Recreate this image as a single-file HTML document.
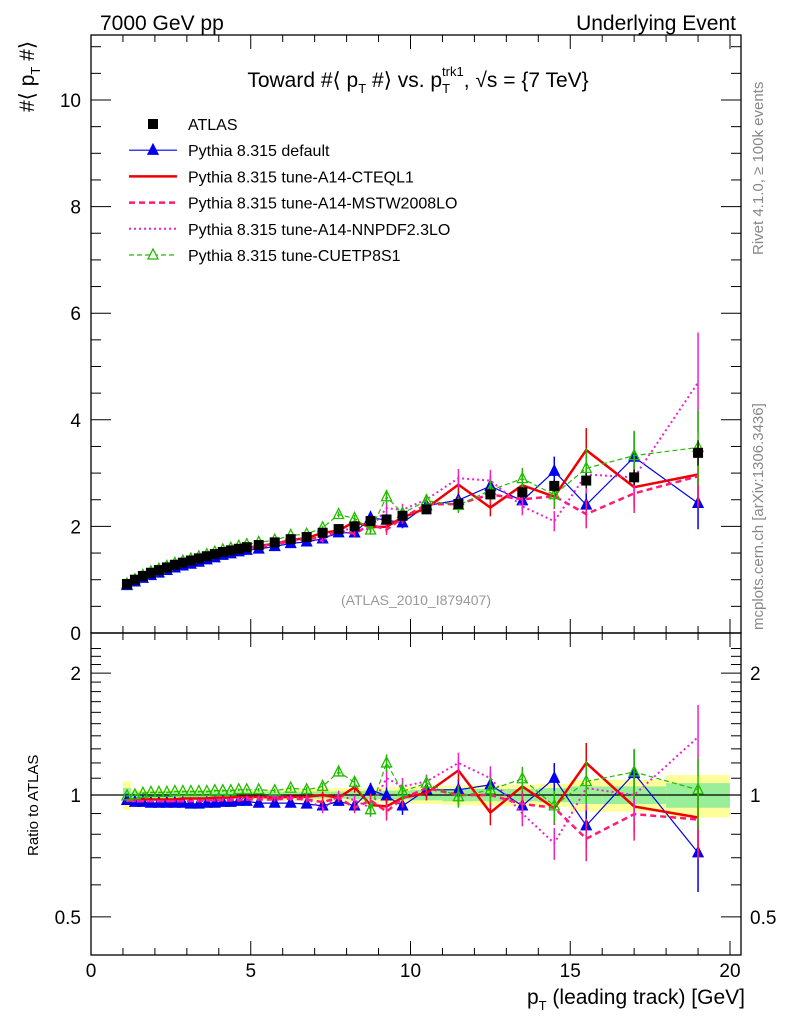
<!DOCTYPE html>
<html><head><meta charset="utf-8"><style>
body{margin:0;background:#fff}
svg{font-family:"Liberation Sans",sans-serif;display:block}
</style></head><body>
<svg id="c" width="786" height="1024" viewBox="0 0 786 1024" xmlns="http://www.w3.org/2000/svg">
<text x="100" y="30" font-size="21">7000 GeV pp</text>
<text x="736" y="30" font-size="21" text-anchor="end">Underlying Event</text>
<text x="418" y="87" font-size="21" text-anchor="middle">Toward #⟨ p<tspan font-size="13" dy="6">T</tspan><tspan dy="-6"> #⟩ vs. p</tspan><tspan font-size="13" dy="6">T</tspan><tspan font-size="13" dx="-8" dy="-17">trk1</tspan><tspan dy="11">, √s = {7 TeV}</tspan></text>
<text transform="translate(34,112) rotate(-90)" font-size="21">#⟨ p<tspan font-size="13" dy="6">T</tspan><tspan dy="-6"> #⟩</tspan></text>
<text transform="translate(38,856) rotate(-90)" font-size="15">Ratio to ATLAS</text>
<text x="745" y="1004" font-size="21" text-anchor="end">p<tspan font-size="13" dy="6">T</tspan><tspan dy="-6"> (leading track) [GeV]</tspan></text>
<text transform="translate(763,255) rotate(-90)" font-size="15" fill="#888">Rivet 4.1.0, ≥ 100k events</text>
<text transform="translate(763,630) rotate(-90)" font-size="15" fill="#888">mcplots.cern.ch [arXiv:1306.3436]</text>
<text x="416" y="605" font-size="14" fill="#999" text-anchor="middle">(ATLAS_2010_I879407)</text>
<g id="bands"></g><g id="plots"></g><g id="axes"></g><g id="legend"></g>
</svg>
<script>
const xCenters=[1.125,1.375,1.625,1.875,2.125,2.375,2.625,2.875,3.125,3.375,3.625,3.875,4.125,4.375,4.625,4.875,5.25,5.75,6.25,6.75,7.25,7.75,8.25,8.75,9.25,9.75,10.5,11.5,12.5,13.5,14.5,15.5,17,19];
const xHalfWidths=[.125,.125,.125,.125,.125,.125,.125,.125,.125,.125,.125,.125,.125,.125,.125,.125,.25,.25,.25,.25,.25,.25,.25,.25,.25,.25,.5,.5,.5,.5,.5,.5,1,1];
const atlasValues=[0.92,1.0,1.07,1.13,1.18,1.23,1.28,1.32,1.36,1.40,1.44,1.48,1.52,1.55,1.58,1.61,1.65,1.70,1.76,1.80,1.88,1.95,2.0,2.1,2.13,2.2,2.32,2.42,2.6,2.64,2.76,2.86,2.92,3.38];
const totalRelErr=[0.08,0.03,0.03,0.03,0.03,0.03,0.03,0.03,0.03,0.03,0.03,0.03,0.03,0.03,0.03,0.03,0.03,0.03,0.035,0.035,0.04,0.04,0.04,0.04,0.045,0.045,0.05,0.055,0.06,0.06,0.065,0.09,0.09,0.12];
const statRelErr=[0.04,0.02,0.02,0.02,0.02,0.02,0.02,0.02,0.02,0.02,0.02,0.02,0.02,0.02,0.02,0.02,0.02,0.02,0.02,0.02,0.02,0.02,0.025,0.025,0.025,0.025,0.03,0.035,0.035,0.035,0.04,0.05,0.05,0.07];
const modelRelErr=[.005,.005,.005,.005,.005,.005,.005,.006,.006,.006,.006,.007,.007,.008,.008,.009,.01,.012,.015,.018,.02,.025,.03,.04,.05,.05,.04,.06,.07,.07,.09,.12,.14,.2];
const ratioDefault=[0.97,0.96,0.96,0.955,0.955,0.955,0.955,0.955,0.95,0.95,0.955,0.955,0.96,0.96,0.965,0.965,0.955,0.955,0.955,0.95,0.94,0.965,0.94,1.03,0.995,0.94,1.03,1.03,1.06,0.94,1.10,0.84,1.13,0.72];
const ratioCTEQL1=[0.975,0.975,0.975,0.975,0.975,0.975,0.975,0.98,0.98,0.98,0.98,0.985,0.985,0.985,0.99,0.99,0.99,0.985,0.99,0.99,1.0,0.985,1.045,0.945,0.937,0.985,1.01,1.15,0.905,1.05,0.927,1.2,0.937,0.88];
const ratioMSTW=[0.97,0.965,0.965,0.965,0.965,0.965,0.965,0.965,0.965,0.965,0.97,0.97,0.97,0.97,0.97,0.975,0.975,0.975,0.98,0.975,0.96,0.985,0.93,0.97,0.91,0.98,1.04,1.0,1.0,0.95,0.93,0.78,0.897,0.87];
const ratioNNPDF=[0.965,0.965,0.965,0.965,0.965,0.965,0.965,0.965,0.965,0.97,0.97,0.97,0.975,0.975,0.98,0.985,0.985,0.99,0.985,0.985,0.92,1.0,0.97,0.93,1.1,1.05,1.08,1.2,1.1,0.9,0.76,1.04,1.0,1.39];
const ratioCUETP8S1=[0.995,1.0,1.01,1.015,1.015,1.015,1.02,1.02,1.02,1.02,1.02,1.025,1.025,1.025,1.03,1.03,1.03,1.025,1.04,1.03,1.05,1.14,1.075,0.92,1.2,1.02,1.07,0.99,1.03,1.097,0.94,1.08,1.14,1.03];
const mainTicks=[0,2,4,6,8,10];
const ratioTicks=[0.5,1,2];
const xTicks=[0,5,10,15,20];

const NS="http://www.w3.org/2000/svg";
const L=91,R=741,T=35,MB=633,RB=955;
const sx=v=>L+v*31.95;
const sy=v=>MB-v*53.3;
const sr=v=>795-405*Math.log10(v);
function mk(parent,tag,attrs){const e=document.createElementNS(NS,tag);for(const k in attrs)e.setAttribute(k,attrs[k]);document.getElementById(parent).appendChild(e);return e;}

// bands
for(let i=0;i<xCenters.length;i++){
  const x0=sx(xCenters[i]-xHalfWidths[i]),w=sx(xCenters[i]+xHalfWidths[i])-x0;
  let e=mk('bands','rect',{x:x0,y:sr(1+totalRelErr[i]),width:w,height:sr(1-totalRelErr[i])-sr(1+totalRelErr[i]),fill:'#ffff99'});
  
  
  e=mk('bands','rect',{x:x0,y:sr(1+statRelErr[i]),width:w,height:sr(1-statRelErr[i])-sr(1+statRelErr[i]),fill:'#99ee99'});
  
  
}
let ref=mk('bands','line',{x1:L,x2:R,y1:sr(1),y2:sr(1),stroke:'#000','stroke-width':1.3});



const series=[
 {r:ratioDefault,c:'#0000ee',w:1.2,d:'',m:'tri',name:'pythia-default'},
 {r:ratioCTEQL1,c:'#ee0000',w:2.5,d:'',m:null,name:'pythia-a14-cteql1'},
 {r:ratioMSTW,c:'#ff1a75',w:2.5,d:'6,4',m:null,name:'pythia-a14-mstw2008lo'},
 {r:ratioNNPDF,c:'#ee22cc',w:2,d:'2,3',m:null,name:'pythia-a14-nnpdf23lo'},
 {r:ratioCUETP8S1,c:'#22bb00',w:1.2,d:'5,3',m:'otri',name:'pythia-cuetp8s1'}
];
function tri(g,x,y,c,open){const p=`${x},${y-6} ${x-5},${y+4} ${x+5},${y+4}`;return mk(g,'polygon',{points:p,fill:open?'none':c,stroke:c,'stroke-width':1.3});}
function clipY(y,top,bot){return Math.max(top,Math.min(bot,y));}
series.forEach(s=>{
  ['main','ratio'].forEach(panel=>{
    const top=panel==='main'?T:MB, bot=panel==='main'?MB:RB;
    const yv=i=>panel==='main'?sy(s.r[i]*atlasValues[i]):sr(s.r[i]);
    const pts=xCenters.map((x,i)=>sx(x)+','+clipY(yv(i),top,bot)).join(' ');
    const pl=mk('plots','polyline',{points:pts,fill:'none',stroke:s.c,'stroke-width':s.w,'stroke-dasharray':s.d});
    
    
    xCenters.forEach((x,i)=>{
      const v=s.r[i],e=modelRelErr[i];
      const y1=panel==='main'?sy(v*atlasValues[i]*(1+e)):sr(v*(1+e));
      const y2=panel==='main'?sy(v*atlasValues[i]*(1-e)):sr(v*(1-e));
      const eb=mk('plots','line',{x1:sx(x),x2:sx(x),y1:clipY(y1,top,bot),y2:clipY(y2,top,bot),stroke:s.c,'stroke-width':1.5});
      
      
      if(s.m){const t=tri('plots',sx(x),yv(i),s.c,s.m==='otri');
        
        }
    });
  });
});
// data points
xCenters.forEach((x,i)=>{
  const y=sy(atlasValues[i]),e=statRelErr[i]*atlasValues[i];
  const eb=mk('plots','line',{x1:sx(x),x2:sx(x),y1:sy(atlasValues[i]+e),y2:sy(atlasValues[i]-e),stroke:'#000','stroke-width':1.2});
  
  
  const r=mk('plots','rect',{x:sx(x)-5,y:y-5,width:10,height:10,fill:'#000'});
  
  
});
// axes frames
let f=mk('axes','rect',{x:L,y:T,width:R-L,height:MB-T,fill:'none',stroke:'#000','stroke-width':1.3});


f=mk('axes','rect',{x:L,y:MB,width:R-L,height:RB-MB,fill:'none',stroke:'#000','stroke-width':1.3});


function tick(x1,y1,x2,y2){mk('axes','line',{x1,y1,x2,y2,stroke:'#000','stroke-width':1});}
// x ticks
for(let v=0;v<=20;v++){const x=sx(v),len=v%5===0?14:7;
  tick(x,T,x,T+len);tick(x,MB,x,MB-len);tick(x,MB,x,MB+len);tick(x,RB,x,RB-len);}
xTicks.forEach(v=>{const t=mk('axes','text',{x:sx(v),y:977,'font-size':19,'text-anchor':'middle'});t.textContent=v;
  
  });
// main y ticks
for(let v=0;v<=11;v+=0.5){const y=sy(v);if(y<T)continue;const len=(v%2===0)?20:10;tick(L,y,L+len,y);tick(R,y,R-len,y);}
mainTicks.forEach(v=>{const t=mk('axes','text',{x:81,y:sy(v)+7,'font-size':19,'text-anchor':'end'});t.textContent=v;
  
  });
// ratio ticks
for(let v=0.4;v<=2.35;v+=0.1){const y=sr(v);if(y<MB||y>RB)continue;const r=Math.round(v*10);const len=(r===5||r===10||r===20)?20:10;tick(L,y,L+len,y);tick(R,y,R-len,y);}
ratioTicks.forEach(v=>{let t=mk('axes','text',{x:81,y:sr(v)+7,'font-size':19,'text-anchor':'end'});t.textContent=v;
  
  
  t=mk('axes','text',{x:750,y:sr(v)+7,'font-size':19});t.textContent=v;
  
  });
// legend
const legendLabels=['ATLAS','Pythia 8.315 default','Pythia 8.315 tune-A14-CTEQL1','Pythia 8.315 tune-A14-MSTW2008LO','Pythia 8.315 tune-A14-NNPDF2.3LO','Pythia 8.315 tune-CUETP8S1'];
legendLabels.forEach((lab,i)=>{
  const y=124+i*26.2;
  const g=mk('legend','g',{});
  
  
  const add=(tag,a)=>{const e=document.createElementNS(NS,tag);for(const k in a)e.setAttribute(k,a[k]);g.appendChild(e);return e;};
  if(i===0)add('rect',{x:148,y:y-5,width:10,height:10,fill:'#000'});
  else{const s=series[i-1];add('line',{x1:129,x2:177,y1:y,y2:y,stroke:s.c,'stroke-width':s.w,'stroke-dasharray':s.d});
    if(s.m){const p=`153,${y-6} 148,${y+4} 158,${y+4}`;add('polygon',{points:p,fill:s.m==='otri'?'#fff':s.c,stroke:s.c,'stroke-width':1.3});}}
  const t=add('text',{x:188,y:y+6,'font-size':16});t.textContent=lab;
});
</script>
</body></html>
